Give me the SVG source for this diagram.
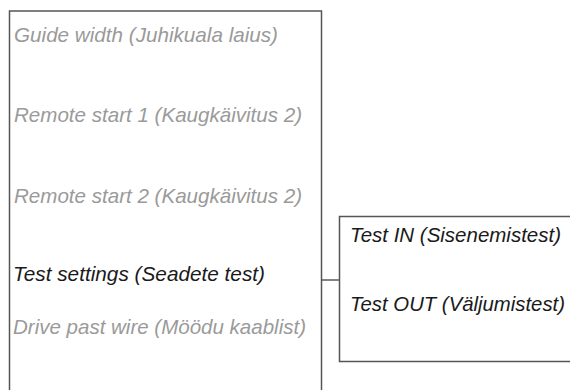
<svg xmlns="http://www.w3.org/2000/svg" width="570" height="390" viewBox="0 0 570 390">
<style>
.box{fill:#fff;stroke:#555;stroke-width:1.5}
.t{font-family:"Liberation Sans",Arial,sans-serif;font-style:italic;font-size:21px}
.dim{fill:#9a9a9a}
.act{fill:#1a1a1a}
.conn{stroke:#333;stroke-width:1.2;fill:none}
</style>
<rect width="570" height="390" fill="#fff"/>
<g id="menu">
<rect class="box" x="9.5" y="11" width="312" height="400"/>
<text class="t dim" x="14" y="42" textLength="264" lengthAdjust="spacingAndGlyphs">Guide width (Juhikuala laius)</text>
<text class="t dim" x="14" y="122" textLength="288" lengthAdjust="spacingAndGlyphs">Remote start 1 (Kaugkäivitus 2)</text>
<text class="t dim" x="14" y="203" textLength="288" lengthAdjust="spacingAndGlyphs">Remote start 2 (Kaugkäivitus 2)</text>
<text class="t act" x="13" y="281" textLength="252" lengthAdjust="spacingAndGlyphs">Test settings (Seadete test)</text>
<text class="t dim" x="13" y="334" textLength="293" lengthAdjust="spacingAndGlyphs">Drive past wire (Möödu kaablist)</text>
</g>
<g id="connectors">
<line class="conn" x1="322" y1="280" x2="339" y2="280"/>
</g>
<g id="submenu">
<rect class="box" x="339.5" y="216.5" width="260" height="145"/>
<text class="t act" x="350" y="242" textLength="211" lengthAdjust="spacingAndGlyphs">Test IN (Sisenemistest)</text>
<text class="t act" x="350" y="311" textLength="215" lengthAdjust="spacingAndGlyphs">Test OUT (Väljumistest)</text>
</g>
</svg>
